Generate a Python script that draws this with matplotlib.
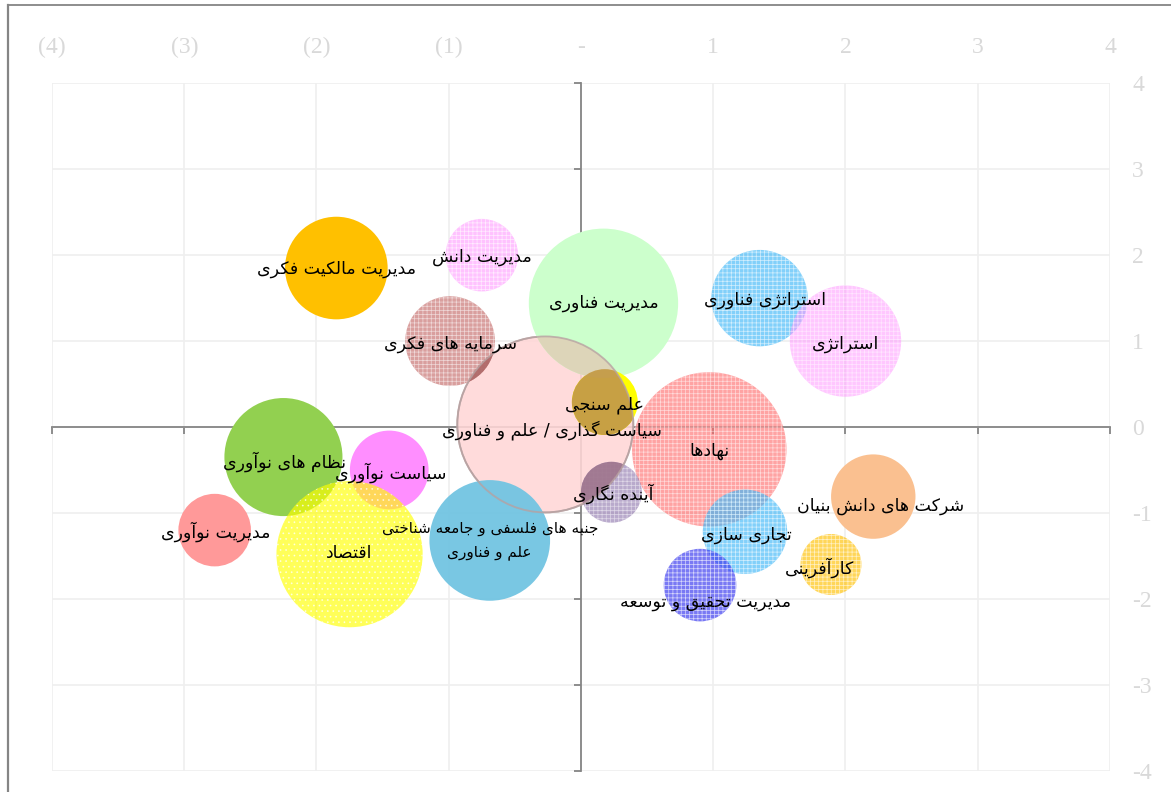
import unicodedata
import numpy as np
import matplotlib
matplotlib.use("Agg")
import matplotlib.pyplot as plt
from matplotlib.patches import Ellipse
from matplotlib.lines import Line2D

# ---------------- data ----------------
topics = [
    "سیاست گذاری / علم و فناوری",
    "مدیریت مالکیت فکری",
    "مدیریت دانش",
    "مدیریت فناوری",
    "سرمایه های فکری",
    "علم سنجی",
    "استراتژی فناوری",
    "استراتژی",
    "نهادها",
    "آینده نگاری",
    "تجاری سازی",
    "مدیریت تحقیق و توسعه",
    "شرکت های دانش بنیان",
    "کارآفرینی",
    "نظام های نوآوری",
    "سیاست نوآوری",
    "اقتصاد",
    "مدیریت نوآوری",
    "جنبه های فلسفی و جامعه شناختی\nعلم و فناوری",
]
x_vals = [-0.27, -1.85, -0.75, 0.17, -0.99, 0.18, 1.35, 2.00, 0.97, 0.23,
          1.24, 0.90, 2.21, 1.89, -2.25, -1.45, -1.75, -2.77, -0.69]
y_vals = [0.03, 1.85, 2.00, 1.44, 1.00, 0.29, 1.50, 1.00, -0.26, -0.76,
          -1.22, -1.84, -0.81, -1.60, -0.35, -0.50, -1.48, -1.20, -1.32]
bubble_sizes = [100, 34, 17, 72, 26, 14, 30, 40, 77, 12,
                23, 17, 23, 12, 45, 20, 69, 17, 47]
x_ticks = [-4, -3, -2, -1, 0, 1, 2, 3, 4]
x_tick_labels = ["(4)", "(3)", "(2)", "(1)", "-", "1", "2", "3", "4"]
y_ticks = [-4, -3, -2, -1, 0, 1, 2, 3, 4]
y_tick_labels = ["-4", "-3", "-2", "-1", "0", "1", "2", "3", "4"]

# ---------------- styles ----------------
# (face colour, alpha, hatch, colour under the big bubble, label offset pt, label size)
styles = {
    0: ("#FFD6D6", 0.88, None, None, (5, -4), 12.5),
    1: ("#FFC000", 1.0, None, None, (0, -1), 12.5),
    2: ("#FFA8FF", 0.7, "++++", None, (0, -1), 12.5),
    3: ("#CCFFCC", 1.0, None, "#DFD3B8", (0, 0), 12.5),
    4: ("#C0605E", 0.6, "++++", "#B06A6A", (0, -2), 12.5),
    5: ("#FFFF00", 1.0, None, "#C49B48", (0, -2), 12.5),
    6: ("#3FB8F8", 0.65, "++++", None, (4, -1), 12.5),
    7: ("#FF99FF", 0.55, "++++", None, (0, -2), 12.5),
    8: ("#FF6666", 0.6, "++++", None, (0, -1), 12.5),
    9: ("#8064A2", 0.55, "++++", "#A07890", (1, -1), 12.5),
    10: ("#3FB8F8", 0.65, "++++", None, (1, -2), 12.5),
    11: ("#4040F0", 0.7, "++++", None, (4, -12), 12.5),
    12: ("#FAC090", 1.0, None, None, (5, -7), 12.5),
    13: ("#FFC000", 0.65, "++++", None, (-8, -2), 12.5),
    14: ("#92D050", 1.0, None, None, (1, -3), 12.5),
    15: ("#FF88FF", 0.95, None, None, (1, -2), 12.5),
    16: ("#FFFF00", 0.65, "...", None, (0, 1), 12.5),
    17: ("#FF9999", 1.0, None, None, (1, -1), 12.5),
    18: ("#72C4E2", 0.95, None, None, (0, 0), 11.0),
}

# ---------------- Persian shaping ----------------
FORMS = {}
for cp in list(range(0xFB50, 0xFE00)) + list(range(0xFE70, 0xFF00)):
    ch = chr(cp)
    d = unicodedata.decomposition(ch)
    if not d.startswith("<"):
        continue
    parts = d.split()
    if len(parts) != 2:
        continue
    tag = parts[0].strip("<>")
    if tag not in ("isolated", "final", "initial", "medial"):
        continue
    base = chr(int(parts[1], 16))
    FORMS.setdefault(base, {}).setdefault(tag, ch)


def _joins_next(c):
    f = FORMS.get(c)
    return f is not None and ("initial" in f or "medial" in f)


def _joins_prev(c):
    f = FORMS.get(c)
    return f is not None and "final" in f


def shape_line(s):
    out = []
    n = len(s)
    for i, c in enumerate(s):
        f = FORMS.get(c)
        if not f:
            out.append(c)
            continue
        jp = i > 0 and _joins_next(s[i - 1]) and _joins_prev(c)
        jn = i < n - 1 and _joins_next(c) and _joins_prev(s[i + 1])
        if jp and jn:
            form = "medial"
        elif jp:
            form = "final"
        elif jn:
            form = "initial"
        else:
            form = "isolated"
        out.append(f.get(form, f.get("isolated", c)))
    return "".join(reversed(out))


def rtl(s):
    return "\n".join(shape_line(line) for line in s.split("\n"))


# ---------------- figure ----------------
W, H, DPI = 1171, 792, 100
fig = plt.figure(figsize=(W / DPI, H / DPI), dpi=DPI)
plt.rcParams["hatch.linewidth"] = 0.5
ax = fig.add_axes([52 / W, (H - 770.7) / H, (1110 - 52) / W, (770.7 - 83.3) / H])
ax.set_xlim(-4, 4)
ax.set_ylim(-4, 4)
ax.set_axisbelow(True)
ax.grid(True, color="#EFEFEF", lw=1.2, zorder=0)

for side in ("top", "right"):
    ax.spines[side].set_visible(False)
ax.spines["bottom"].set_position(("data", 0))
ax.spines["left"].set_position(("data", 0))
for side in ("bottom", "left"):
    ax.spines[side].set_color("#858585")
    ax.spines[side].set_linewidth(1.3)
    ax.spines[side].set_zorder(1)

ax.set_xticks(x_ticks)
ax.set_xticklabels(x_tick_labels)
ax.set_yticks(y_ticks)
ax.set_yticklabels(y_tick_labels)
ax.tick_params(axis="x", bottom=True, top=False, labelbottom=False, labeltop=True,
               direction="out", length=5, width=1.3, color="#858585",
               labelcolor="#D9D9D9", pad=13)
ax.tick_params(axis="y", left=True, right=False, labelleft=False, labelright=True,
               direction="out", length=5, width=1.3, color="#858585",
               labelcolor="#D9D9D9", pad=11)
for lab in ax.get_xticklabels() + ax.get_yticklabels():
    lab.set_fontfamily("Liberation Serif")
    lab.set_fontsize(17)

# pixel scale of the data units
ppx = ax.bbox.width / 8.0
ppy = ax.bbox.height / 8.0
R_MAX = 88.0  # pixel radius of the largest bubble
smax = max(bubble_sizes)

big_idx = int(np.argmax(bubble_sizes))
patches = []
for i, (x, y, s) in enumerate(zip(x_vals, y_vals, bubble_sizes)):
    r = R_MAX * np.sqrt(s / smax)
    color, alpha, hatch = styles[i][:3]
    e = Ellipse((x, y), 2 * r / ppx, 2 * r / ppy, facecolor=color, alpha=alpha,
                hatch=hatch, edgecolor="white" if i != big_idx else "#B8A2A2",
                linewidth=0 if i != big_idx else 1.3, zorder=2 + i * 0.01)
    ax.add_patch(e)
    patches.append(e)

# darker areas where bubbles lie beneath the big translucent bubble
big = patches[big_idx]
clip = Ellipse(big.center, big.width, big.height, transform=ax.transData)
for i, (x, y, s) in enumerate(zip(x_vals, y_vals, bubble_sizes)):
    oc = styles[i][3]
    if oc is None:
        continue
    r = R_MAX * np.sqrt(s / smax)
    e = Ellipse((x, y), 2 * r / ppx, 2 * r / ppy, facecolor=oc, edgecolor="none",
                alpha=0.95, zorder=2.5)
    ax.add_patch(e)
    e.set_clip_path(clip)
# redraw big bubble outline on top
ax.add_patch(Ellipse(big.center, big.width, big.height, facecolor="none",
                     edgecolor="#B8A2A2", lw=1.3, alpha=0.8, zorder=2.6))

for i, (x, y, t) in enumerate(zip(x_vals, y_vals, topics)):
    ax.annotate(rtl(t), (x, y), xytext=styles[i][4], textcoords="offset points",
                ha="center", va="center", fontsize=styles[i][5], family="DejaVu Sans",
                color="black", zorder=10, linespacing=1.75)

# outer frame (left and top edges visible)
fig.add_artist(Line2D([7.5 / W, 7.5 / W], [0, 1 - 5 / H], transform=fig.transFigure,
                      color="#858585", lw=1.6))
fig.add_artist(Line2D([7.5 / W, 1], [1 - 5 / H, 1 - 5 / H], transform=fig.transFigure,
                      color="#858585", lw=1.3))

fig.savefig("out.png", dpi=DPI)
